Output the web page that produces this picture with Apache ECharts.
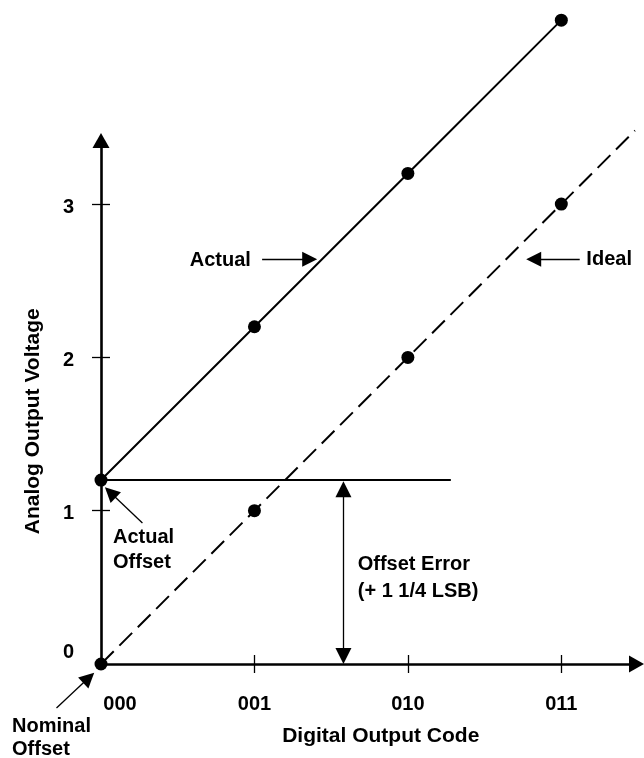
<!DOCTYPE html>
<html><head><meta charset="utf-8">
<script src="https://cdn.jsdelivr.net/npm/echarts@6/dist/echarts.min.js"></script>
<style>html,body{margin:0;padding:0;background:#fff}#c{width:644px;height:758px}</style>
</head><body><div id="c"></div>
<script>
// ---- data ----
const codes = [0, 1, 2, 3];
const codeLabels = ['000', '001', '010', '011'];
const voltTicks = [0, 1, 2, 3];
const actualVolts = [1.2, 2.2, 3.2, 4.2];
const idealVolts = [0, 1, 2, 3];
const idealEnd = [3.48, 3.48];
const xRange = [0, 3.49];
const yRange = [0, 3.415];
const actualOffsetLevel = [[0, 1.2], [2.28, 1.2]];
// annotation arrows: [tail, head] in data units
const offsetErrorArrow = [[1.58, 1.14], [1.58, 0.052]];
const actualArrow = [[1.05, 2.64], [1.36, 2.64]];
const idealArrow = [[3.12, 2.64], [2.82, 2.64]];
const actualOffsetArrow = [[0.27, 0.92], [0.061, 1.119]];
const nominalOffsetArrow = [[-0.29, -0.287], [-0.08, -0.09]];
// annotation texts
const noteTexts = ['Actual', 'Ideal', 'Actual\nOffset', 'Offset Error\n(+ 1 1/4 LSB)', 'Nominal\nOffset'];
const notePos = [[0.98, 2.63], [3.16, 2.64], [0.075, 0.747], [1.67, 0.558], [-0.583, -0.48]];
const noteSide = ['left', 'right', 'right', 'right', 'right'];
const noteLineHeight = [24, 24, 25, 27, 23];

const FONT = 'Liberation Sans, Arial, sans-serif';
const chart = echarts.init(document.getElementById('c'), null, {renderer: 'canvas'});

const tickStyle = {color: '#000', width: 1.3};
const makeX = (main) => ({
  type: 'value', position: 'bottom', min: xRange[0], max: xRange[1],
  axisLine: {show: main, lineStyle: {color: '#000', width: 2.6}, symbol: ['none', 'triangle'], symbolSize: [17, 15]},
  axisTick: {show: true, inside: !main, length: 9, lineStyle: tickStyle, customValues: codes.slice(1)},
  axisLabel: main ? {
    show: true, customValues: codes, margin: 30, color: '#000', fontFamily: FONT, fontWeight: 'bold', fontSize: 20,
    formatter: v => { const i = codes.indexOf(v); return i === 0 ? '{a|' + codeLabels[i] + '}' : '{b|' + codeLabels[i] + '}'; },
    rich: {a: {padding: [0, 0, 0, 38], fontFamily: FONT, fontWeight: 'bold', fontSize: 20, color: '#000'},
           b: {fontFamily: FONT, fontWeight: 'bold', fontSize: 20, color: '#000'}}
  } : {show: false},
  splitLine: {show: false},
  name: main ? 'Digital Output Code' : '', nameLocation: 'middle', nameGap: 62,
  nameTextStyle: {color: '#000', fontFamily: FONT, fontWeight: 'bold', fontSize: 21, padding: [0, 0, 0, 24]}
});
const makeY = (main) => ({
  type: 'value', position: 'left', min: yRange[0], max: yRange[1],
  axisLine: {show: main, lineStyle: {color: '#000', width: 2.6}, symbol: ['none', 'triangle'], symbolSize: [17, 15]},
  axisTick: {show: true, inside: !main, length: 9, lineStyle: tickStyle, customValues: voltTicks.slice(1)},
  axisLabel: main ? {
    show: true, customValues: voltTicks, margin: 27, color: '#000', fontFamily: FONT, fontWeight: 'bold', fontSize: 20,
    formatter: v => v === 0 ? '{z|0}' : '{d|' + v + '}',
    rich: {z: {padding: [0, 0, 24, 0], fontFamily: FONT, fontWeight: 'bold', fontSize: 20, color: '#000'},
           d: {padding: [6, 0, 0, 0], fontFamily: FONT, fontWeight: 'bold', fontSize: 20, color: '#000'}}
  } : {show: false},
  splitLine: {show: false},
  name: main ? 'Analog Output Voltage' : '', nameLocation: 'middle', nameGap: 57, nameRotate: 90,
  nameTextStyle: {color: '#000', fontFamily: FONT, fontWeight: 'bold', fontSize: 21, padding: [0, 38, 0, 0]}
});

chart.setOption({
  animation: false,
  backgroundColor: '#fff',
  grid: {left: 101, right: 7.5, top: 140.5, bottom: 94, containLabel: false, outerBoundsMode: 'none'},
  xAxis: [makeX(true), makeX(false)],
  yAxis: [makeY(true), makeY(false)],
  series: [
    {
      name: 'Actual', type: 'line', clip: false, z: 4,
      data: actualVolts.map((v, i) => [codes[i], v]),
      symbol: 'circle', symbolSize: 13, itemStyle: {color: '#000'},
      lineStyle: {color: '#000', width: 2}
    },
    {
      name: 'Ideal', type: 'line', clip: false, z: 4,
      data: idealVolts.map((v, i) => [codes[i], v]).concat([{value: idealEnd, symbol: 'none'}]),
      symbol: 'circle', symbolSize: 13, itemStyle: {color: '#000'},
      lineStyle: {color: '#000', width: 2, type: [18, 8]}
    },
    {
      name: 'Offset level', type: 'line', clip: false, z: 3,
      data: actualOffsetLevel, symbol: 'none',
      lineStyle: {color: '#000', width: 2}
    },
    {
      name: 'Arrows', type: 'lines', coordinateSystem: 'cartesian2d', clip: false, silent: true, z: 5,
      symbol: ['none', 'triangle'], symbolSize: 15,
      lineStyle: {color: '#000', width: 1.3, opacity: 1, curveness: 0},
      data: [actualArrow, idealArrow, actualOffsetArrow, nominalOffsetArrow].map(a => ({coords: a}))
    },
    {
      name: 'Double arrow', type: 'lines', coordinateSystem: 'cartesian2d', clip: false, silent: true, z: 5,
      symbol: ['triangle', 'triangle'], symbolSize: 16,
      lineStyle: {color: '#000', width: 1.3, opacity: 1, curveness: 0},
      data: [{coords: offsetErrorArrow}]
    },
    {
      name: 'Notes', type: 'scatter', clip: false, silent: true, z: 6,
      symbol: 'circle', symbolSize: 1, itemStyle: {color: 'rgba(0,0,0,0)', opacity: 1},
      data: noteTexts.map((t, i) => ({
        value: notePos[i],
        label: {show: true, position: noteSide[i], distance: 0, formatter: t,
          align: noteSide[i] === 'left' ? 'right' : 'left', opacity: 1,
          color: '#000', fontFamily: FONT, fontWeight: 'bold', fontSize: 20, lineHeight: noteLineHeight[i]}
      }))
    }
  ]
});
</script></body></html>
